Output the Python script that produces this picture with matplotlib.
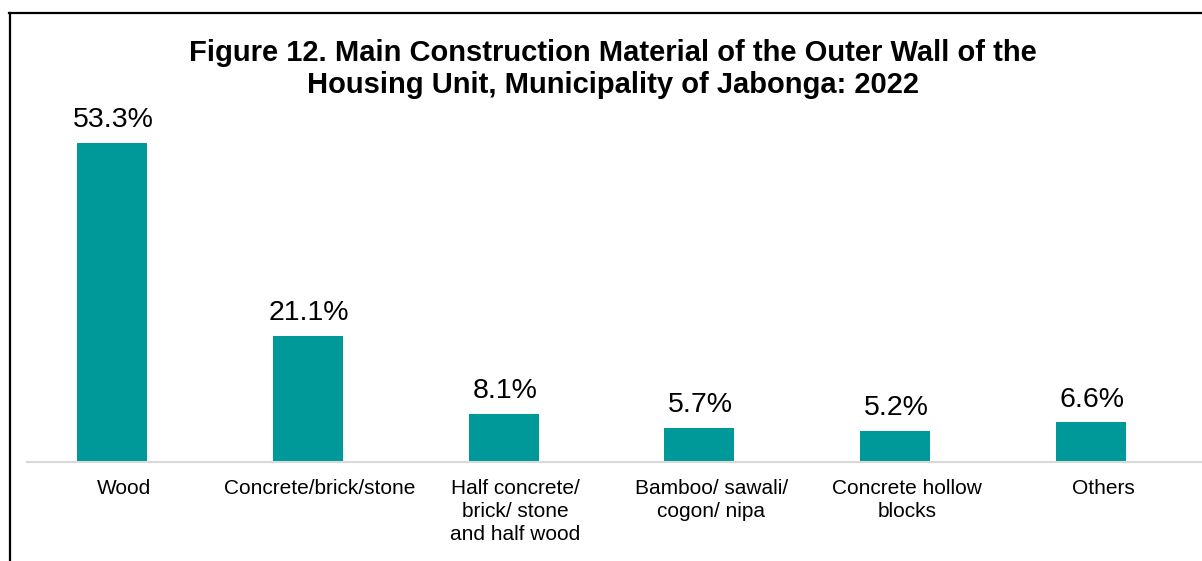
import matplotlib
matplotlib.use("Agg")
import matplotlib.pyplot as plt
import matplotlib.transforms as mtransforms
from matplotlib.lines import Line2D

categories = ["Wood", "Concrete/brick/stone", "Half concrete/\nbrick/ stone\nand half wood",
              "Bamboo/ sawali/\ncogon/ nipa", "Concrete hollow\nblocks", "Others"]
values = [53.3, 21.1, 8.1, 5.7, 5.2, 6.6]
labels = ["53.3%", "21.1%", "8.1%", "5.7%", "5.2%", "6.6%"]
title = "Figure 12. Main Construction Material of the Outer Wall of the\nHousing Unit, Municipality of Jabonga: 2022"

plt.rcParams['font.family'] = ['Liberation Sans', 'DejaVu Sans']

W, H = 1202, 561
fig = plt.figure(figsize=(W/100, H/100), dpi=100)

# axes placement in pixels
left_px, right_px = 27, 1202
base_px, top_px = 462, 102.9
ax = fig.add_axes([left_px/W, (H-base_px)/H, (right_px-left_px)/W, (base_px-top_px)/H])

x = list(range(len(categories)))
ax.bar(x, values, width=0.357, color="#009999")
ax.set_xlim(-0.434, 5.567)
ax.set_ylim(0, 60)

for xi, v, lab in zip(x, values, labels):
    ax.annotate(lab, (xi, v), xytext=(1, 7), textcoords="offset points",
                ha="center", va="bottom", fontsize=20.5, color="#000000")

for s in ["top", "right", "left"]:
    ax.spines[s].set_visible(False)
ax.spines["bottom"].set_color("#d9d9d9")
ax.spines["bottom"].set_linewidth(1.5)
ax.set_yticks([])
ax.set_xticks(x)
ax.set_xticklabels(categories, fontsize=15, linespacing=1.27, va="top")
ax.tick_params(axis="x", length=0, pad=12.5)
offset = mtransforms.ScaledTranslation(12/100, 0, fig.dpi_scale_trans)
for lbl in ax.get_xticklabels():
    lbl.set_transform(lbl.get_transform() + offset)

fig.text(613/W, 1 - 39/H, title, ha="center", va="top", fontsize=21,
         fontweight="bold", linespacing=1.2)

# border lines (top and left)
fig.add_artist(Line2D([9/W, 1.0], [1 - 13/H, 1 - 13/H], color="black", lw=1.6,
                      transform=fig.transFigure))
fig.add_artist(Line2D([9.5/W, 9.5/W], [0, 1 - 13/H], color="black", lw=1.6,
                      transform=fig.transFigure))

fig.savefig("out.png", dpi=100)
